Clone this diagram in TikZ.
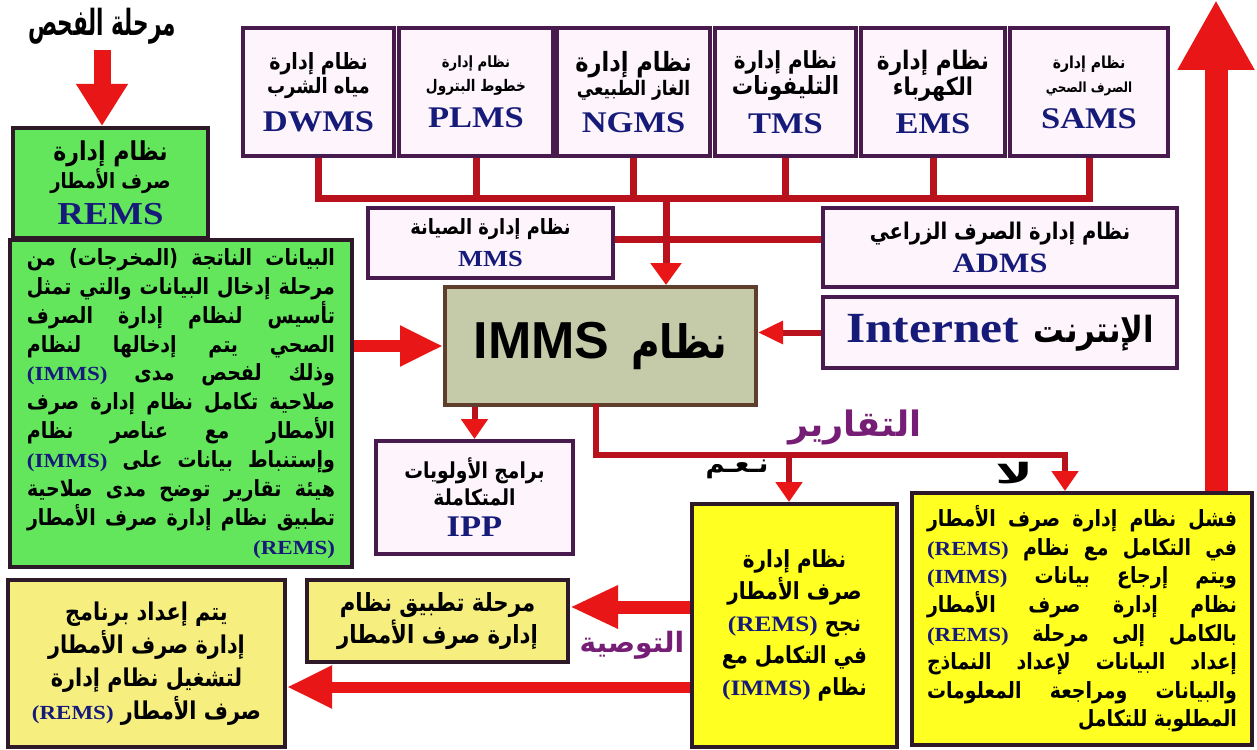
\documentclass[tikz,border=0pt]{standalone}
\usepackage{fontspec}
\usetikzlibrary{arrows.meta,calc}
\TeXXeTstate=1
\newfontfamily\arabicfont[Script=Arabic,FakeStretch=0.85]{DejaVu Sans}
\newfontfamily\arabicplain[Script=Arabic]{DejaVu Sans}
\newfontfamily\arabicnarrow[Script=Arabic,FakeStretch=0.6]{DejaVu Sans}
\newfontfamily\arabicwide[Script=Arabic,FakeStretch=1.8]{DejaVu Sans}
\newfontfamily\codefont[FakeStretch=1.15]{Liberation Serif}
\newfontfamily\immsfont{Liberation Sans}

\definecolor{linered}{RGB}{186,18,28}
\definecolor{arrowred}{RGB}{232,22,22}
\definecolor{boxpurple}{RGB}{72,26,78}
\definecolor{pinkfill}{RGB}{253,245,251}
\definecolor{navy}{RGB}{22,26,120}
\definecolor{grassgreen}{RGB}{100,230,92}
\definecolor{immsfill}{RGB}{197,202,168}
\definecolor{immsedge}{RGB}{96,62,46}
\definecolor{brightyellow}{RGB}{255,255,34}
\definecolor{paleyellow}{RGB}{246,239,128}
\definecolor{darkedge}{RGB}{45,25,40}
\definecolor{labelpurple}{RGB}{118,30,118}

% Arabic runs (size, text): condensed body face, plain, narrow and wide faces
\newcommand\AR[2]{{\fontsize{#1}{#1}\selectfont\arabicfont\bfseries\beginR #2\endR}}
\newcommand\ARP[2]{{\fontsize{#1}{#1}\selectfont\arabicplain\bfseries\beginR #2\endR}}
\newcommand\ARN[2]{{\fontsize{#1}{#1}\selectfont\arabicnarrow\bfseries\beginR #2\endR}}
\newcommand\ARW[2]{{\fontsize{#1}{#1}\selectfont\arabicwide\bfseries\beginR #2\endR}}
% Latin run inside an Arabic line, and system codes
\newcommand\LT[1]{\beginL #1\endL}
\newcommand\CD[2]{{\fontsize{#1}{#1}\selectfont\codefont\bfseries\color{navy}#2}}
% justified and right-aligned lines of a paragraph
\newcommand\JL[3]{\makebox[#1][s]{\fontsize{#2}{#2}\selectfont\arabicfont\bfseries\beginR #3\endR}}
\newcommand\RL[3]{\makebox[#1][r]{\fontsize{#2}{#2}\selectfont\arabicfont\bfseries\beginR #3\endR}}

% one of the six systems along the top row:
% name, x, width, size line 1, size line 2, line 1, line 2, code
\newcommand\topbox[8]{%
  \node[sysbox,minimum width=#3pt,minimum height=128pt,
        font=\fontsize{20}{24}\selectfont] (#1) at (#2,92)
        {\AR{#4}{#6}\\\AR{#5}{#7}\\[12pt]\CD{30}{#8}};}

\begin{document}
\begin{tikzpicture}[x=1pt,y=-1pt,
  sysbox/.style={draw=boxpurple,line width=4pt,fill=pinkfill,inner sep=0pt,align=center},
  greenbox/.style={draw=darkedge,line width=4pt,fill=grassgreen,inner sep=0pt,align=center},
  yellowbox/.style={draw=darkedge,line width=4pt,fill=brightyellow,inner sep=0pt,align=center},
  paleybox/.style={draw=darkedge,line width=4pt,fill=paleyellow,inner sep=0pt,align=center},
  wire/.style={draw=linered,line width=7pt},
  thinwire/.style={draw=linered,line width=6pt},
  smalltip/.style={-{Triangle[length=20pt,width=26pt,color=arrowred]}},
  bigarrow/.style={draw=arrowred},
  tag/.style={inner sep=0pt,align=center}]

\useasboundingbox (0,0) rectangle (1257,749);
\fill[white] (0,0) rectangle (1257,749);

% ---- top row of systems ----
\topbox{dwms}{318.5}{151}{22.4}{21.2}{نظام إدارة}{مياه الشرب}{DWMS}
\topbox{plms}{476}{154}{15.5}{16}{نظام إدارة}{خطوط البترول}{PLMS}
\topbox{ngms}{633.5}{153}{26.5}{20}{نظام إدارة}{الغاز الطبيعي}{NGMS}
\topbox{tms}{785.5}{141}{23.5}{25}{نظام إدارة}{التليفونات}{TMS}
\topbox{ems}{933}{144}{25.5}{24.5}{نظام إدارة}{الكهرباء}{EMS}
\topbox{sams}{1089}{158}{16.5}{14}{نظام إدارة}{الصرف الصحي}{SAMS}

% ---- second row ----
\node[sysbox,minimum width=245pt,minimum height=70pt,font=\fontsize{16}{30}\selectfont]
  (mms) at (490.5,243) {\AR{21}{نظام إدارة الصيانة}\\[2pt]\CD{23}{MMS}};
\node[sysbox,minimum width=354pt,minimum height=79pt,font=\fontsize{17}{33}\selectfont]
  (adms) at (1000,247.5) {\AR{23}{نظام إدارة الصرف الزراعي}\\\CD{28}{ADMS}};
\node[sysbox,minimum width=354pt,minimum height=71pt]
  (internet) at (1000,332.5) {\AR{36}{الإنترنت\hspace{4pt} \LT{\CD{43}{Internet}}}};

% ---- central system ----
\node[draw=immsedge,line width=4pt,fill=immsfill,inner sep=0pt,
      minimum width=311pt,minimum height=118pt]
  (imms) at (600.5,346) {\AR{46}{نظام\hspace{8pt} \LT{{\fontsize{52}{52}\selectfont\immsfont\bfseries IMMS}}}};

% ---- left column ----
\node[tag] (chk) at (102,26) {\ARN{36}{مرحلة الفحص}};
\node[greenbox,minimum width=195pt,minimum height=110pt,font=\fontsize{20}{28}\selectfont]
  (rems) at (110.5,183) {\AR{26}{نظام إدارة}\\\AR{21}{صرف الأمطار}\\[8pt]\CD{32}{REMS}};
\node[greenbox,minimum width=342pt,minimum height=327pt,font=\fontsize{19}{28.9}\selectfont]
  (inputs) at (181,403.5) {%
  \JL{308pt}{22.3}{البيانات الناتجة (المخرجات) من}\\
  \JL{308pt}{22.3}{مرحلة إدخال البيانات والتي تمثل}\\
  \JL{308pt}{22.3}{تأسيس لنظام إدارة الصرف}\\
  \JL{308pt}{22.3}{الصحي يتم إدخالها لنظام}\\
  \JL{308pt}{22.3}{وذلك لفحص مدى \LT{\CD{20}{(IMMS)}}}\\
  \JL{308pt}{22.3}{صلاحية تكامل نظام إدارة صرف}\\
  \JL{308pt}{22.3}{الأمطار مع عناصر نظام}\\
  \JL{308pt}{22.3}{وإستنباط بيانات على \LT{\CD{20}{(IMMS)}}}\\
  \JL{308pt}{22.3}{هيئة تقارير توضح مدى صلاحية}\\
  \JL{308pt}{22.3}{تطبيق نظام إدارة صرف الأمطار}\\
  \RL{308pt}{22.3}{\LT{\CD{20}{(REMS)}}}};

% ---- priorities ----
\node[sysbox,minimum width=197pt,minimum height=113pt,font=\fontsize{18}{27}\selectfont]
  (ipp) at (474.5,497.5) {\AR{22}{برامج الأولويات}\\\AR{22}{المتكاملة}\\[4pt]\CD{30}{IPP}};

% ---- outcomes ----
\node[yellowbox,minimum width=205pt,minimum height=243pt,font=\fontsize{22}{32}\selectfont]
  (pass) at (794.5,625.5) {%
  \AR{23.5}{نظام إدارة}\\
  \AR{23.5}{صرف الأمطار}\\
  \AR{23.5}{نجح \LT{\CD{22}{(REMS)}}}\\
  \AR{23.5}{في التكامل مع}\\
  \AR{23.5}{نظام \LT{\CD{22}{(IMMS)}}}};
\node[yellowbox,minimum width=340pt,minimum height=252pt,font=\fontsize{19}{28.6}\selectfont]
  (fail) at (1082,619) {%
  \JL{310pt}{22.3}{فشل نظام إدارة صرف الأمطار}\\
  \JL{310pt}{22.3}{في التكامل مع نظام \LT{\CD{20}{(REMS)}}}\\
  \JL{310pt}{22.3}{ويتم إرجاع بيانات \LT{\CD{20}{(IMMS)}}}\\
  \JL{310pt}{22.3}{نظام إدارة صرف الأمطار}\\
  \JL{310pt}{22.3}{بالكامل إلى مرحلة \LT{\CD{20}{(REMS)}}}\\
  \JL{310pt}{22.3}{إعداد البيانات لإعداد النماذج}\\
  \JL{310pt}{22.3}{والبيانات ومراجعة المعلومات}\\
  \RL{310pt}{22.3}{المطلوبة للتكامل}};
\node[paleybox,minimum width=261pt,minimum height=82pt,font=\fontsize{20}{32}\selectfont]
  (apply) at (437.5,621) {\AR{25}{مرحلة تطبيق نظام}\\\AR{25}{إدارة صرف الأمطار}};
\node[paleybox,minimum width=277pt,minimum height=167pt,font=\fontsize{20}{33}\selectfont]
  (prog) at (146.5,663.5) {%
  \AR{24.5}{يتم إعداد برنامج}\\
  \AR{24.5}{إدارة صرف الأمطار}\\
  \AR{24.5}{لتشغيل نظام إدارة}\\
  \AR{24.5}{صرف الأمطار \LT{\CD{20}{(REMS)}}}};

% ---- labels ----
\node[tag,text=labelpurple] (reports) at (855,427) {\ARP{35}{التقارير}};
\node[tag] (yes) at (737,469) {\ARP{26}{نـعـم}};
\node[tag] (no) at (1014,473) {\ARW{28}{لا}};
\node[tag,text=labelpurple] (advice) at (632,645) {\ARP{28}{التوصية}};

% ---- junction points ----
\coordinate (busL) at (312,198);
\coordinate (drop) at (666,198);
\coordinate (rj) at (596,455);
\coordinate (ryes) at (789,455);
\coordinate (rno) at (1065,455);
\coordinate (topend) at (1216,0);

% ---- bus collecting the top systems ----
\foreach \b in {dwms,plms,ngms,tms,ems,sams}
  \draw[wire] (\b.south) -- (\b.south |- busL);
\draw[wire,line cap=rect] (dwms.south |- busL) -- (sams.south |- busL);
\draw[wire] ([yshift=4pt]mms.east) -- ([yshift=4pt]mms.east -| adms.west);
\draw[wire,-{Triangle[length=22pt,width=30pt,color=arrowred]}] (drop) -- (drop |- imms.north);
\draw[thinwire,-{Triangle[length=25pt,width=22pt,color=arrowred]}] (internet.west) -- (internet.west -| imms.east);

% ---- from the inputs ----
\draw[bigarrow,line width=17pt,-{Triangle[length=42pt,width=49pt]}] ([yshift=-6pt]chk.south) -- (chk.south |- rems.north);
\draw[bigarrow,line width=12pt,-{Triangle[length=43pt,width=38pt]}] (inputs.east |- imms.west) -- (imms.west);

% ---- outputs of the central system ----
\draw[thinwire,smalltip] (ipp.north |- imms.south) -- (ipp.north);
\draw[thinwire,line cap=rect] (rj |- imms.south) -- (rj) -- (rno);
\draw[thinwire,smalltip] (ryes) -- (ryes |- pass.north);
\draw[thinwire,smalltip] (rno) -- (rno |- fail.north);

% ---- recommendation arrows ----
\draw[bigarrow,line width=13pt,-{Triangle[length=48pt,width=40pt]}] ([yshift=14pt]apply.east -| pass.west) -- ([yshift=14pt]apply.east);
\draw[bigarrow,line width=11pt,-{Triangle[length=45pt,width=40pt]}] ([yshift=-23.5pt]prog.east -| pass.west) -- ([yshift=-23.5pt]prog.east);

% ---- failure goes back up ----
\draw[bigarrow,line width=23pt,-{Triangle[length=70pt,width=72pt]}] (fail.north -| topend) -- (topend);

\end{tikzpicture}
\end{document}
